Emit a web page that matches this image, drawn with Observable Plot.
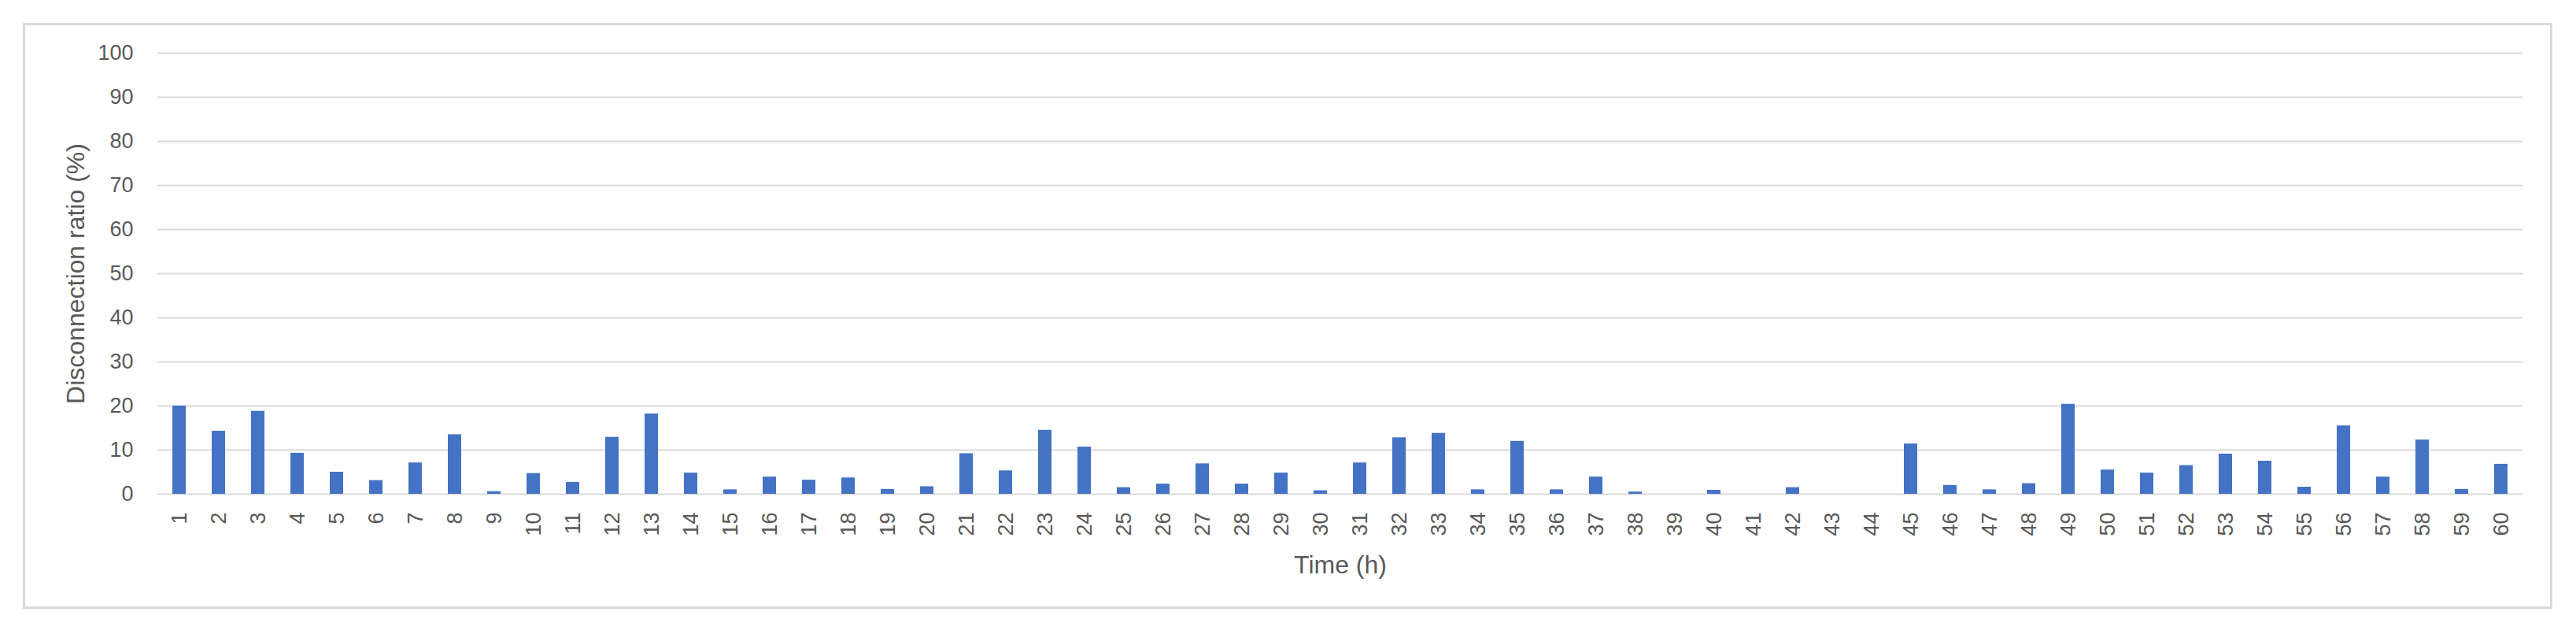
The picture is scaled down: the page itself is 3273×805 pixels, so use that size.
<!DOCTYPE html>
<html>
<head>
<meta charset="utf-8">
<script src="https://cdn.jsdelivr.net/npm/d3@7"></script>
<script src="https://cdn.jsdelivr.net/npm/@observablehq/plot@0.6"></script>
<style>
  html, body { margin: 0; padding: 0; background: #ffffff; }
  #wrap { position: relative; width: 3273px; height: 805px; }
  #frame { position: absolute; left: 29px; top: 29px; width: 3214px; height: 744px; box-sizing: border-box; border: 3px solid #d9d9d9; }
  #chart { position: absolute; left: 0; top: 0; }
  #chart svg [aria-label="x-axis label"] text, #chart svg [aria-label="y-axis label"] text { font-size: 32px; }
</style>
</head>
<body>
<div id="wrap"><div id="frame"></div><div id="chart"></div></div>
<script>
const hours = ["1","2","3","4","5","6","7","8","9","10","11","12","13","14","15","16","17","18","19","20",
  "21","22","23","24","25","26","27","28","29","30","31","32","33","34","35","36","37","38","39","40",
  "41","42","43","44","45","46","47","48","49","50","51","52","53","54","55","56","57","58","59","60"];
const ratios = [20,14.3,18.8,9.3,5.0,3.1,7.1,13.5,0.6,4.7,
  2.7,12.9,18.2,4.8,1.0,3.9,3.2,3.7,1.1,1.7,
  9.2,5.3,14.5,10.7,1.5,2.3,6.9,2.3,4.8,0.8,
  7.1,12.8,13.8,1.0,12.0,1.0,3.9,0.5,0,0.9,
  0,1.5,0,0,11.4,2.0,1.0,2.4,20.4,5.5,
  4.8,6.5,9.1,7.5,1.6,15.5,3.9,12.3,1.1,6.8];
const yTicks = [0,10,20,30,40,50,60,70,80,90,100];
const xLabel = "Time (h)";
const yLabel = "Disconnection ratio (%)";

const data = hours.map((h, i) => ({hour: h, value: ratios[i]}));

const chart = Plot.plot({
  width: 3273,
  height: 805,
  marginLeft: 200,
  marginRight: 68,
  marginTop: 67,
  marginBottom: 178,
  style: {fontFamily: "'Liberation Sans', Arial, sans-serif", fontSize: "27px", color: "#595959", background: "transparent"},
  x: {type: "band", domain: hours, paddingInner: 0.66, paddingOuter: 0.33},
  y: {domain: [0, 100]},
  marks: [
    Plot.gridY(yTicks, {stroke: "#d9d9d9", strokeOpacity: 1, strokeWidth: 2}),
    Plot.barY(data, {x: "hour", y: "value", fill: "#4472C4"}),
    Plot.axisY(yTicks, {tickSize: 0, tickPadding: 31, label: yLabel, labelAnchor: "center", labelOffset: 116, labelArrow: "none"}),
    Plot.axisX({tickSize: 0, tickRotate: -90, tickPadding: 23, label: xLabel, labelAnchor: "center", labelOffset: 100, labelArrow: "none"})
  ]
});
document.getElementById("chart").appendChild(chart);
</script>
</body>
</html>
